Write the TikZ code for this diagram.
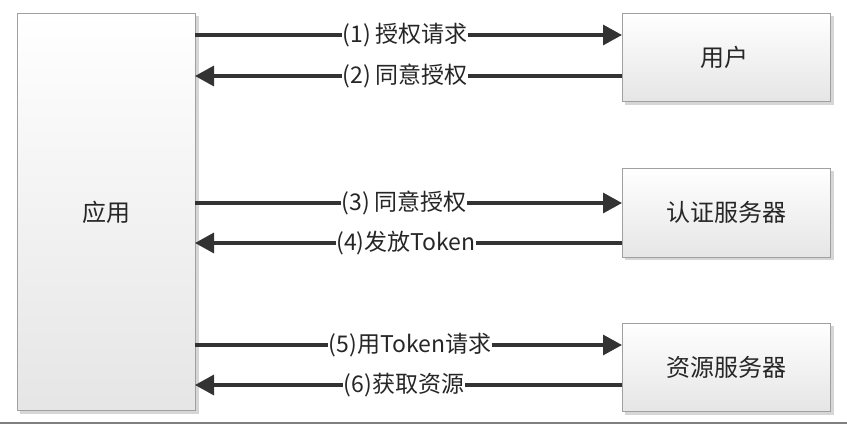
\documentclass[tikz,border=0pt]{standalone}
\usepackage{fontspec}
\setmainfont{Noto Sans CJK SC}
\usetikzlibrary{arrows.meta}
\definecolor{linec}{HTML}{333333}
\definecolor{boxline}{HTML}{A0A0A0}
\tikzset{
  box/.style={draw=boxline, line width=0.8pt, top color=white, bottom color=black!10, inner sep=0pt},
  shadowbox/.style={fill=black!16, draw=none},
  msg/.style={draw=linec, line width=3.3pt, -{Triangle[length=19pt,width=20pt]}},
  lbl/.style={fill=white, inner sep=0.5pt, font=\fontsize{23}{23}\selectfont, text=black!85},
  boxtxt/.style={font=\fontsize{24}{24}\selectfont, text=black!85}
}
\begin{document}
\begin{tikzpicture}[x=1pt,y=-1pt]
\useasboundingbox (0,0) rectangle (847,425);
% shadows
\fill[shadowbox] (20,16) rectangle (199,414);
\fill[shadowbox] (625,16) rectangle (834,105);
\fill[shadowbox] (625,171) rectangle (834,260);
\fill[shadowbox] (625,326) rectangle (834,415);
% boxes
\path[box] (17,13) rectangle (195,410);
\path[box] (622,13) rectangle (830,101);
\path[box] (622,168) rectangle (830,257);
\path[box] (622,323) rectangle (830,411);
\node[boxtxt] (app) at (106,212) {应用};
\node[boxtxt] (user) at (724,57) {用户};
\node[boxtxt] (auth) at (726,212) {认证服务器};
\node[boxtxt] (res) at (726,367) {资源服务器};
% anchor coordinates
\coordinate (a1) at (195,35);  \coordinate (b1) at (622,35);
\coordinate (a2) at (195,76);  \coordinate (b2) at (622,76);
\coordinate (a3) at (195,203); \coordinate (b3) at (622,203);
\coordinate (a4) at (195,243); \coordinate (b4) at (622,243);
\coordinate (a5) at (195,345); \coordinate (b5) at (622,345);
\coordinate (a6) at (195,385); \coordinate (b6) at (622,385);
% arrows
\draw[msg] (a1) -- (b1);
\draw[msg] (b2) -- (a2);
\draw[msg] (a3) -- (b3);
\draw[msg] (b4) -- (a4);
\draw[msg] (a5) -- (b5);
\draw[msg] (b6) -- (a6);
% labels
\node[lbl] (l1) at (405,35) {(1)\,授权请求};
\node[lbl] (l2) at (405,76) {(2)\,同意授权};
\node[lbl] (l3) at (404,203) {(3)\,同意授权};
\node[lbl] (l4) at (406,243) {(4)发放Token};
\node[lbl] (l5) at (410,345) {(5)用Token请求};
\node[lbl] (l6) at (404,385) {(6)获取资源};
% bottom rule
\coordinate (r1) at (0,423); \coordinate (r2) at (847,423);
\draw[black!50, line width=2pt] (r1) -- (r2);
\end{tikzpicture}
\end{document}
